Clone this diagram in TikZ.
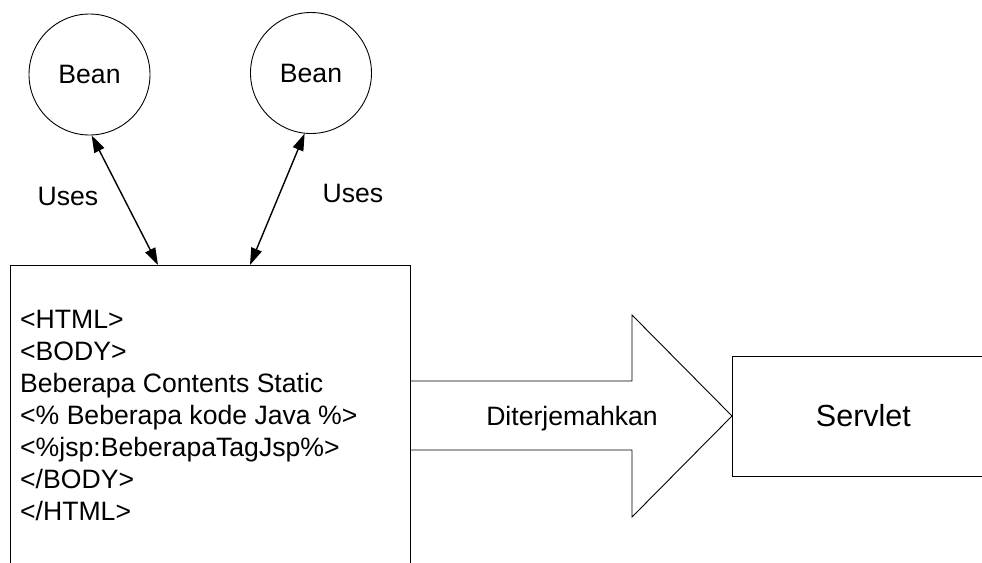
\documentclass[tikz,border=0pt]{standalone}
\usepackage{fontspec}
\setmainfont{Liberation Sans}
\usetikzlibrary{arrows.meta,calc}
\begin{document}
\begin{tikzpicture}[x=1pt,y=-1pt,
  lbl/.style={font=\fontsize{26.6}{32}\selectfont, inner sep=0pt},
  thin line/.style={line width=0.9pt},
  bean/.style={circle, draw, thin line, minimum size=121pt, inner sep=0pt, font=\fontsize{26.6}{32}\selectfont},
  uses/.style={line width=1.4pt, {Triangle[length=17pt,width=11pt]}-{Triangle[length=17pt,width=11pt]}},
  boxnode/.style={draw, thin line, inner sep=0pt}]
\useasboundingbox (0,0) rectangle (982,562);
\clip (0,0) rectangle (982,562);
\fill[white] (0,0) rectangle (982,562);

\node[bean] (bean1) at (89.5,74.5) {Bean};
\node[bean] (bean2) at (311,73) {Bean};

\node[boxnode, minimum width=400pt, minimum height=330pt, anchor=north west] (jsp) at (10,265) {};
\node[lbl, anchor=north west, align=left] (code) at (20,305.6) {\strut<HTML>\\\strut<BODY>\\\strut Beberapa Contents Static\\\strut<\% Beberapa kode Java \%>\\\strut<\%jsp:BeberapaTagJsp\%>\\\strut</BODY>\\\strut</HTML>};

\node[boxnode, minimum width=262pt, minimum height=120pt, anchor=west, font=\fontsize{30.5}{36}\selectfont] (servlet) at (732,416) {Servlet};

\draw[uses] (bean1.-88) -- ($(jsp.north west)+(148,0)$);
\draw[uses] (bean2.-96) -- ($(jsp.north west)+(240,0)$);
\node[lbl] (uses1) at (68,196) {Uses};
\node[lbl] (uses2) at (353,193) {Uses};

\coordinate (tip) at (servlet.west);
\draw[thin line] ($(tip)+(-322,-35)$) -- ++(222,0) -- ++(0,-66) -- (tip) -- ++(-100,101) -- ++(0,-67) -- ++(-222,0);
\node[lbl, anchor=base] (dit) at (572,425) {Diterjemahkan};
\end{tikzpicture}
\end{document}
